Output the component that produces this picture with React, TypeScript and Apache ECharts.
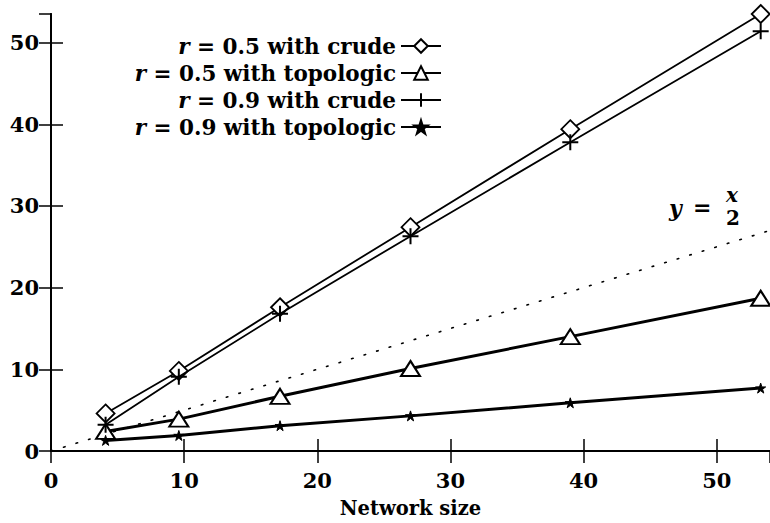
import React, { useEffect, useRef } from "react";
import * as echarts from "echarts";

const networkSize = [4.1, 9.6, 17.2, 27.0, 39.0, 53.3];
const r05Crude = [4.6, 9.8, 17.6, 27.4, 39.4, 53.5];
const r05Topologic = [2.4, 3.9, 6.7, 10.1, 14.0, 18.7];
const r09Crude = [3.2, 9.1, 16.8, 26.3, 37.8, 51.4];
const r09Topologic = [1.3, 1.9, 3.1, 4.3, 5.9, 7.7];
const refLineX = [0, 54];
const seriesNames = [
  "r = 0.5 with crude",
  "r = 0.5 with topologic",
  "r = 0.9 with crude",
  "r = 0.9 with topologic",
];

const SERIF = "'DejaVu Serif', serif";
const STAR =
  "path://M0,-1 L0.2245,-0.309 L0.951,-0.309 L0.363,0.118 L0.588,0.809 L0,0.382 L-0.588,0.809 L-0.363,0.118 L-0.951,-0.309 L-0.2245,-0.309 Z";
const PLUS = "path://M-1,0 L1,0 M0,-1 L0,1";

function pairs(ys: number[]) {
  return networkSize.map((x, i) => [x, ys[i]]);
}

export default function App() {
  const ref = useRef<HTMLDivElement>(null);
  useEffect(() => {
    if (!ref.current) return;
    const chart = echarts.init(ref.current, null, { renderer: "svg" });
    const axisCommon = {
      type: "value" as const,
      splitLine: { show: false },
      axisLine: { show: true, lineStyle: { color: "#000", width: 2 } },
      axisTick: { show: true, inside: true, length: 12, lineStyle: { color: "#000", width: 1.5 } },
    };
    const labelStyle = {
      color: "#000",
      fontFamily: SERIF,
      fontWeight: "bold" as const,
      fontSize: 21,
      showMaxLabel: false,
    };
    chart.setOption({
      animation: false,
      backgroundColor: "#fff",
      grid: { left: 51, right: -6, top: 14, bottom: 69.5, containLabel: false },
      xAxis: [
        {
          ...axisCommon,
          min: 0,
          max: 54,
          interval: 10,
          position: "bottom",
          name: "Network size",
          nameLocation: "middle",
          nameGap: 47,
          nameTextStyle: { color: "#000", fontFamily: SERIF, fontWeight: "bold", fontSize: 19.5, lineHeight: 20 },
          axisLabel: { ...labelStyle, margin: 19 },
        },
        {
          ...axisCommon,
          min: 0,
          max: 54,
          interval: 10,
          position: "top",
          axisLabel: { show: false },
        },
      ],
      yAxis: [
        {
          ...axisCommon,
          min: 0,
          max: 53.5,
          interval: 10,
          position: "left",
          axisLabel: { ...labelStyle, margin: 12 },
        },
        {
          ...axisCommon,
          min: 0,
          max: 53.5,
          interval: 10,
          position: "right",
          axisLabel: { show: false },
        },
      ],
      legend: {
        data: seriesNames,
        orient: "vertical",
        align: "right",
        right: 328,
        top: 35,
        padding: 0,
        itemWidth: 40,
        itemHeight: 17,
        itemGap: 5,
        formatter: (name: string) => "{i|r}" + name.slice(1),
        textStyle: {
          color: "#000",
          fontFamily: SERIF,
          fontWeight: "bold",
          fontSize: 21.5,
          lineHeight: 22,
          rich: {
            i: {
              fontFamily: SERIF,
              fontStyle: "italic",
              fontWeight: "bold",
              fontSize: 21.5,
              lineHeight: 22,
              color: "#000",
            },
          },
        },
      },
      series: [
        {
          name: "y = x/2",
          type: "line",
          data: refLineX.map((x) => [x, x / 2]),
          symbol: "none",
          silent: true,
          lineStyle: { color: "#000", width: 1.6, type: [1.6, 11.5], cap: "round" },
          z: 1,
        },
        {
          name: seriesNames[0],
          type: "line",
          data: pairs(r05Crude),
          symbol: "diamond",
          symbolSize: 18,
          lineStyle: { color: "#000", width: 1.8 },
          itemStyle: { color: "#fff", borderColor: "#000", borderWidth: 1.8 },
          z: 3,
        },
        {
          name: seriesNames[1],
          type: "line",
          data: pairs(r05Topologic),
          symbol: "triangle",
          symbolSize: [19, 15],
          lineStyle: { color: "#000", width: 3 },
          itemStyle: { color: "#fff", borderColor: "#000", borderWidth: 2 },
          z: 3,
        },
        {
          name: seriesNames[2],
          type: "line",
          data: pairs(r09Crude),
          symbol: PLUS,
          symbolSize: 16,
          lineStyle: { color: "#000", width: 1.8 },
          itemStyle: { color: "#000", borderColor: "#000", borderWidth: 2 },
          z: 4,
        },
        {
          name: seriesNames[3],
          type: "line",
          data: pairs(r09Topologic),
          symbol: STAR,
          symbolSize: 10,
          lineStyle: { color: "#000", width: 3 },
          itemStyle: { color: "#000", borderColor: "#000", borderWidth: 1 },
          z: 4,
        },
      ],
      graphic: [
        {
          type: "text",
          left: 669,
          top: 197,
          style: { text: "y", fontFamily: SERIF, fontStyle: "italic", fontWeight: "bold", fontSize: 22, fill: "#000" },
        },
        {
          type: "text",
          left: 693,
          top: 196,
          style: { text: "=", fontFamily: SERIF, fontWeight: "bold", fontSize: 22, fill: "#000" },
        },
        {
          type: "text",
          left: 726,
          top: 185,
          style: { text: "x", fontFamily: SERIF, fontStyle: "italic", fontWeight: "bold", fontSize: 20, fill: "#000" },
        },
        {
          type: "text",
          left: 726,
          top: 208,
          style: { text: "2", fontFamily: SERIF, fontWeight: "bold", fontSize: 20, fill: "#000" },
        },
      ],
    });
    return () => chart.dispose();
  }, []);
  return (
    <div
      ref={ref}
      style={{ width: 770, height: 523, position: "absolute", left: 0, top: 0, overflow: "hidden" }}
    />
  );
}
